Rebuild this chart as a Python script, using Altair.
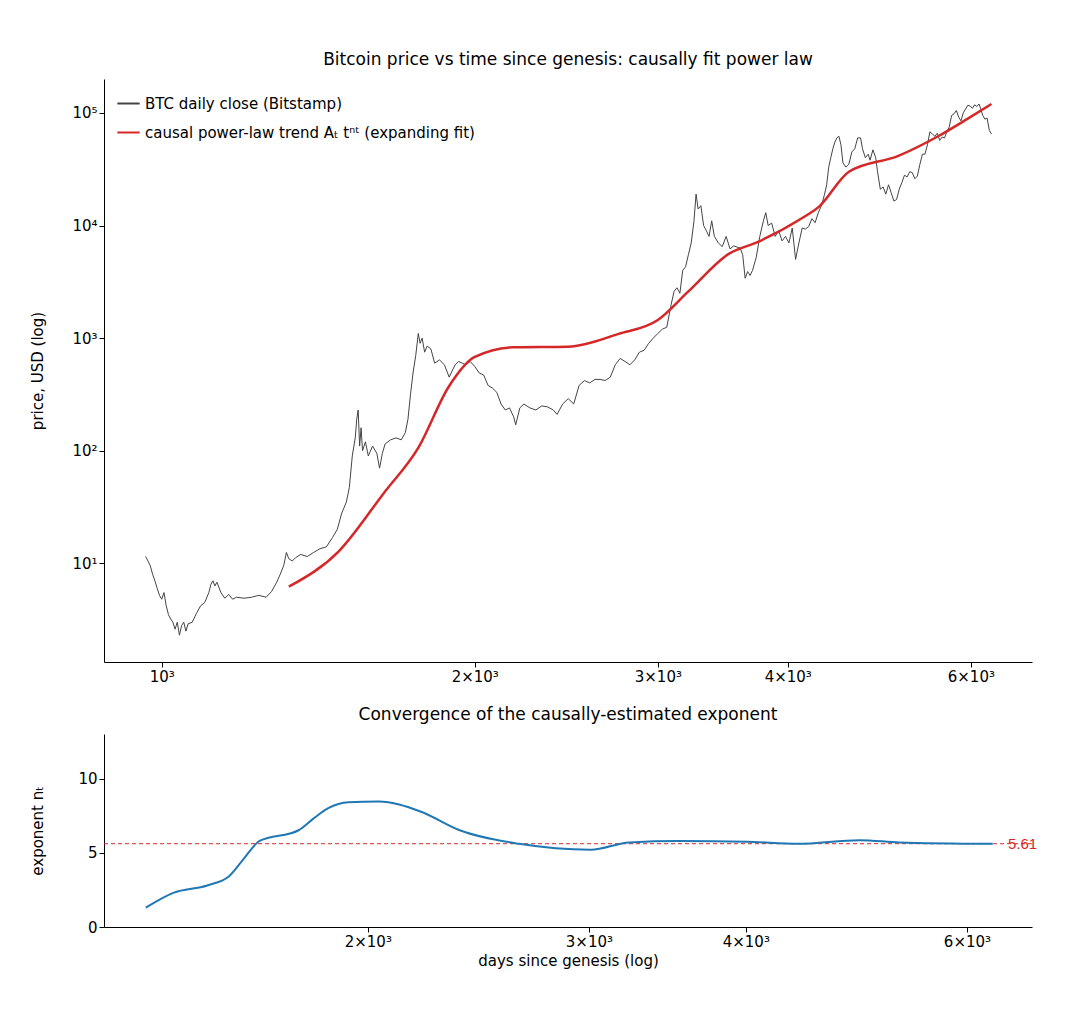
import altair as alt
import pandas as pd

# BTC daily close, sampled by eye (days since genesis, USD)
btc_days = [965, 970, 975, 980, 985, 990, 995, 1000, 1005, 1010, 1015, 1020, 1025, 1030, 1035, 1040, 1045, 1050, 1055, 1060,
            1070, 1080, 1090, 1100, 1110, 1115, 1120, 1125, 1130, 1140, 1150, 1160, 1170, 1180, 1200, 1220, 1240, 1260, 1275, 1290,
            1300, 1310, 1318, 1325, 1335, 1345, 1360, 1380, 1400, 1420, 1440, 1460, 1475, 1490, 1505, 1515, 1525, 1535, 1540, 1545,
            1550, 1555, 1560, 1570, 1580, 1595, 1610, 1620, 1630, 1640, 1660, 1680, 1700, 1715, 1725, 1735, 1745, 1755, 1765, 1772,
            1780, 1790, 1800, 1815, 1830, 1850, 1870, 1890, 1900, 1915, 1930, 1945, 1960, 1980, 2000, 2020, 2040, 2060, 2080, 2100,
            2120, 2140, 2160, 2180, 2190, 2210, 2230, 2260, 2290, 2320, 2350, 2380, 2400, 2430, 2460, 2490, 2520, 2550, 2580, 2610,
            2640, 2670, 2700, 2730, 2760, 2790, 2820, 2850, 2880, 2910, 2940, 2970, 3000, 3030, 3060, 3090, 3110, 3130, 3150, 3170,
            3190, 3210, 3230, 3250, 3265, 3280, 3300, 3320, 3340, 3360, 3380, 3400, 3430, 3460, 3490, 3520, 3550, 3580, 3600, 3620,
            3640, 3660, 3680, 3700, 3730, 3760, 3790, 3810, 3830, 3860, 3890, 3920, 3950, 3980, 4010, 4040, 4070, 4100, 4130, 4160,
            4190, 4220, 4250, 4280, 4310, 4340, 4360, 4380, 4400, 4420, 4440, 4460, 4480, 4500, 4520, 4550, 4580, 4610, 4640, 4670,
            4700, 4720, 4750, 4780, 4800, 4830, 4860, 4880, 4910, 4940, 4970, 5000, 5030, 5060, 5090, 5120, 5150, 5180, 5210, 5240,
            5270, 5300, 5330, 5360, 5390, 5420, 5450, 5480, 5510, 5540, 5570, 5600, 5630, 5660, 5690, 5720, 5750, 5780, 5810, 5840,
            5870, 5900, 5930, 5960, 5990, 6020, 6050, 6080, 6110, 6130, 6160, 6190, 6220, 6250, 6280]
btc_close = [11.5, 10.5, 9.5, 8, 7, 6, 5.2, 4.8, 5.5, 4.2, 3.5, 3.2, 3.0, 2.6, 3.0, 2.3, 2.8, 3.0, 2.5, 2.9,
             3.0, 3.6, 4.2, 4.5, 5.5, 6.5, 7.0, 6.3, 6.8, 5.5, 4.9, 5.3, 4.8, 5.0, 4.9, 5.0, 5.2, 5.0, 5.6, 6.8,
             8, 9.5, 12.5, 11, 10.5, 11.2, 12, 11.5, 12.5, 13.5, 14, 17, 20, 28, 35, 47, 90, 130, 190, 230,
             110, 160, 100, 120, 90, 110, 95, 70, 95, 115, 125, 130, 125, 145, 190, 320, 500, 700, 1100, 900,
             1000, 750, 850, 800, 600, 640, 580, 450, 500, 580, 620, 600, 580, 620, 560, 490, 470, 380, 360, 330,
             260, 230, 240, 200, 170, 240, 260, 240, 230, 250, 245, 230, 210, 260, 290, 260, 380, 420, 400, 430,
             430, 420, 450, 580, 660, 620, 580, 640, 750, 780, 900, 1000, 1100, 1200, 1250, 2000, 2600, 2800, 2500, 4000,
             4300, 5500, 7000, 11000, 19000, 14000, 15000, 10000, 9000, 8000, 11000, 8000, 7000, 6500, 8000, 6200, 6600, 6400, 6300, 5500,
             3400, 3900, 3600, 4000, 5200, 8000, 11000, 13000, 10000, 10500, 8000, 9000, 7300, 8000, 7000, 9500, 5000, 7000, 9500, 9300,
             9800, 11500, 10600, 13000, 15000, 19000, 23000, 33000, 40000, 48000, 55000, 60000, 62000, 52000, 36000, 33000, 35000, 45000, 48000, 60000,
             60000, 48000, 40000, 43000, 38000, 47000, 40000, 30000, 21000, 22000, 19000, 23000, 19500, 16500, 17000, 21000, 24000, 28000, 27000, 30000,
             29500, 26000, 27500, 35000, 43000, 43000, 52000, 68000, 65000, 62000, 66000, 57000, 61000, 60000, 68000, 75000, 95000, 98000, 105000, 92000,
             85000, 100000, 108000, 117000, 115000, 110000, 118000, 114000, 120000, 110000, 95000, 88000, 90000, 70000, 65000]

# causal power-law trend
trend_days = [1325, 1480, 1635, 1766, 1888, 2000, 2180, 2460, 2750, 3000, 3210, 3510, 3750, 4100, 4290, 4580, 5110, 5580, 5960, 6280]
trend_price = [6.2, 12.8, 42, 107, 370, 680, 830, 840, 1090, 1450, 2600, 5600, 7200, 11200, 14800, 30000, 41500, 62000, 89000, 120000]

# exponent n_t
exp_days = [1331, 1400, 1490, 1550, 1590, 1640, 1760, 1810, 1860, 1930, 2040, 2200, 2370, 2640, 3010, 3230, 3540, 4010, 4400, 4930, 5300, 6290]
exp_vals = [1.3, 2.3, 2.8, 3.4, 4.5, 5.8, 6.5, 7.3, 8.0, 8.4, 8.45, 7.8, 6.5, 5.6, 5.2, 5.7, 5.8, 5.75, 5.6, 5.85, 5.7, 5.6]
n_final = 5.61

sup = "{'0':'⁰','1':'¹','2':'²','3':'³','4':'⁴','5':'⁵','6':'⁶'}"
ylab = "'10' + " + sup + "[format(log(datum.value)/log(10), '.0f')]"
xlab = "datum.value == 1000 ? '10³' : format(datum.value/1000, '.0f') + '×10³'"

lbl_a = "BTC daily close (Bitstamp)"
lbl_b = "causal power-law trend  Aₜ tⁿᵗ (expanding fit)"

price_df = pd.DataFrame({"day": btc_days, "price": btc_close, "s": lbl_a})
trend_df = pd.DataFrame({"day": trend_days, "price": trend_price, "s": lbl_b})
exp_df = pd.DataFrame({"day": exp_days, "n": exp_vals})

col = alt.Color("s:N", scale=alt.Scale(domain=[lbl_a, lbl_b], range=["#444444", "#d62728"]),
                legend=alt.Legend(title=None, orient="top-left", symbolType="stroke", symbolSize=500,
                                  labelFontSize=15, labelFont="DejaVu Sans", offset=12, labelLimit=0,
                                  symbolStrokeWidth=2, rowPadding=8))

xs_top = alt.X("day:Q", scale=alt.Scale(type="log", domain=[880, 6870], nice=False),
               axis=alt.Axis(values=[1000, 2000, 3000, 4000, 6000], labelExpr=xlab, title=None, grid=False))
ys_top = alt.Y("price:Q", scale=alt.Scale(type="log", domain=[1.33, 200000], nice=False),
               axis=alt.Axis(values=[10, 100, 1000, 10000, 100000], labelExpr=ylab, title="price, USD (log)",
                             grid=False, minExtent=55))

price_line = alt.Chart(price_df).mark_line(strokeWidth=1).encode(x=xs_top, y=ys_top, color=col)
trend_line = alt.Chart(trend_df).mark_line(strokeWidth=2.5, interpolate="monotone").encode(x=xs_top, y=ys_top, color=col)

top = (price_line + trend_line).properties(
    width=928, height=583,
    title=alt.TitleParams("Bitcoin price vs time since genesis: causally fit power law", fontSize=17, fontWeight="normal", offset=10))

xs_bot = alt.X("day:Q", scale=alt.Scale(type="log", domain=[1233, 6760], nice=False),
               axis=alt.Axis(values=[2000, 3000, 4000, 6000], labelExpr=xlab, title="days since genesis (log)", grid=False))
exp_line = alt.Chart(exp_df).mark_line(color="#1f77b4", strokeWidth=2, interpolate="monotone").encode(
    x=xs_bot,
    y=alt.Y("n:Q", scale=alt.Scale(domain=[0, 13], nice=False),
            axis=alt.Axis(values=[0, 5, 10], title="exponent nₜ", grid=False, minExtent=55)))
ref = pd.DataFrame({"n": [n_final], "t": [f"{n_final:.2f}"]})
rule = alt.Chart(ref).mark_rule(color="#d62728", strokeDash=[4, 3], strokeWidth=1).encode(y="n:Q")
txt = alt.Chart(ref).mark_text(color="#d62728", align="left", dx=4, fontSize=15).encode(
    x=alt.value(900), y="n:Q", text="t:N")

bot = (rule + exp_line + txt).properties(
    width=928, height=193,
    title=alt.TitleParams("Convergence of the causally-estimated exponent", fontSize=17, fontWeight="normal", offset=10))

chart = alt.vconcat(top, bot, spacing=22).properties(
    padding={"left": 22, "top": 43, "right": 5, "bottom": 5}
).configure_view(stroke=None).configure_axis(
    labelFontSize=15, titleFontSize=15, labelColor="#000", titleColor="#000", titleFontWeight="normal",
    domainColor="#000", tickColor="#000", labelFont="DejaVu Sans", titleFont="DejaVu Sans"
).configure_title(font="DejaVu Sans", color="#000")

chart.save("out.html", embed_options={"renderer": "svg", "actions": False})
